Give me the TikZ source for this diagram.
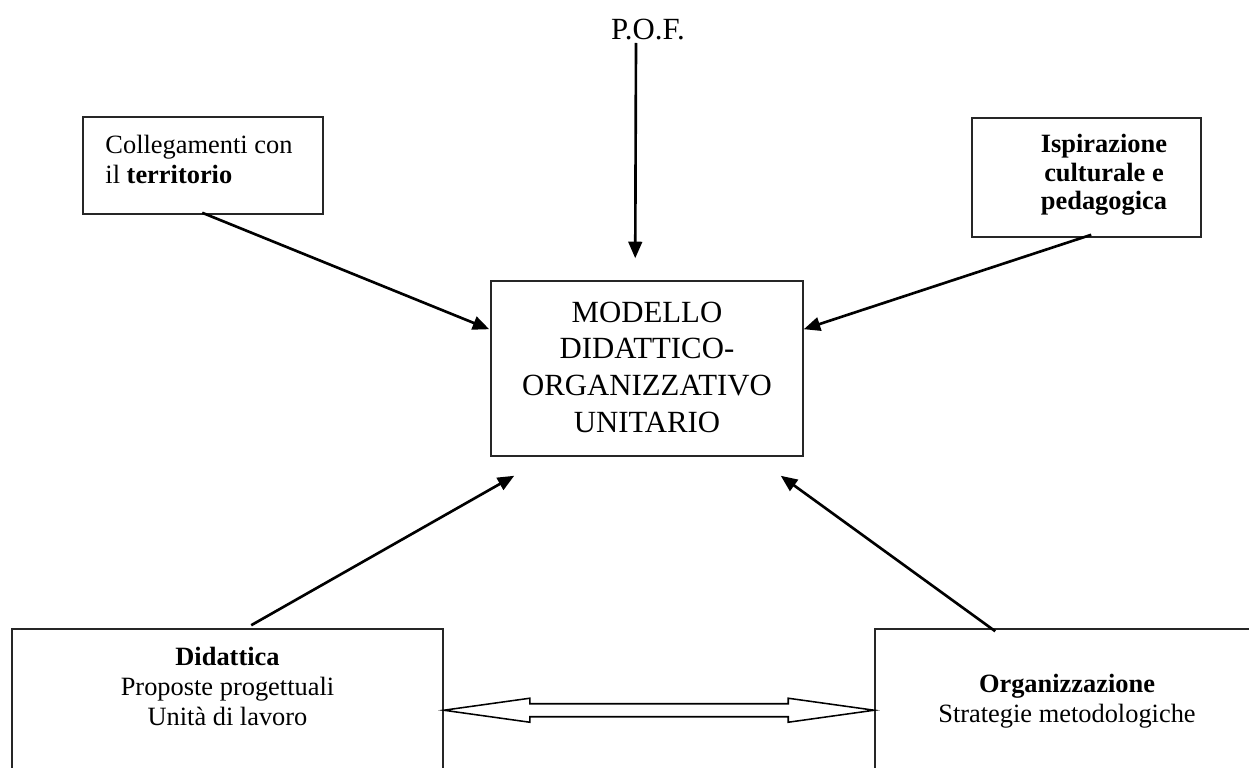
\documentclass[tikz,border=0pt]{standalone}
\usepackage{fontspec}
\setmainfont{Liberation Serif}
\usetikzlibrary{arrows.meta,fit,calc}
\begin{document}
\begin{tikzpicture}[x=0.4545pt,y=-0.4545pt,
  frame/.style={draw=black!85, line width=0.7pt, inner sep=0pt},
  small/.style={font=\fontsize{12}{13.6}\selectfont, inner sep=0pt, align=center},
  big/.style={font=\fontsize{14}{16.6}\selectfont, inner sep=0pt, align=center},
  link/.style={line width=1.2pt, -{Triangle[length=7.5pt,width=6.2pt]}},
  dbl/.style={draw, line width=0.7pt, fill=white, line join=miter}]
\useasboundingbox (0,0) rectangle (1249,768);
\clip (0,0) rectangle (1249,768);
% boxes
\node[frame, fit={(83,117) (323,214)}] (terr) {};
\node[frame, fit={(972,118) (1201,237)}] (isp) {};
\node[frame, fit={(491,281) (803,456)}] (mod) {};
\node[frame, fit={(12,629) (443,800)}] (did) {};
\node[frame, fit={(875,629) (1262,800)}] (org) {};
% texts (anchor base = baseline of last line)
\node[big, anchor=base] (pof) at (648,40) {P.O.F.};
\node[small, anchor=base west, align=left] (terrtxt) at (105,183) {Collegamenti con\\il \textbf{territorio}};
\node[small, anchor=base, font=\fontsize{12}{13}\selectfont\bfseries] (isptxt) at (1104,210) {Ispirazione\\culturale e\\pedagogica};
\node[big, anchor=base] (modtxt) at (647,432) {MODELLO\\DIDATTICO-\\ORGANIZZATIVO\\UNITARIO};
\node[small, anchor=base] (didtxt) at (227.5,725) {\textbf{Didattica}\\Proposte progettuali\\Unità di lavoro};
\node[small, anchor=base] (orgtxt) at (1067,722) {\textbf{Organizzazione}\\Strategie metodologiche};
% connectors
\draw[link] ($(pof.base)+(-12,3)$) -- ($(mod.north west)+(145,-22)$);
\draw[link] ($(terr.south west)+(120,-2)$) -- ($(mod.north west)+(-1,49)$);
\draw[link] ($(isp.south west)+(120,-3)$) -- ($(mod.north east)+(0,49)$);
\draw[link] ($(did.north west)+(240,-3)$) -- ($(mod.south west)+(24,19)$);
\draw[link] ($(org.north west)+(121,3)$) -- ($(mod.south east)+(-23,19)$);
% double block arrow
\coordinate (L) at ($(did.north east)+(0,82)$);
\coordinate (R) at ($(org.north west)+(0,82)$);
\draw[dbl] (L) -- ($(L)+(86,-12)$) -- ($(L)+(86,-6.5)$) -- ($(R)+(-86,-6.5)$) -- ($(R)+(-86,-12)$) -- (R)
  -- ($(R)+(-86,12)$) -- ($(R)+(-86,6.5)$) -- ($(L)+(86,6.5)$) -- ($(L)+(86,12)$) -- cycle;
\end{tikzpicture}
\end{document}
